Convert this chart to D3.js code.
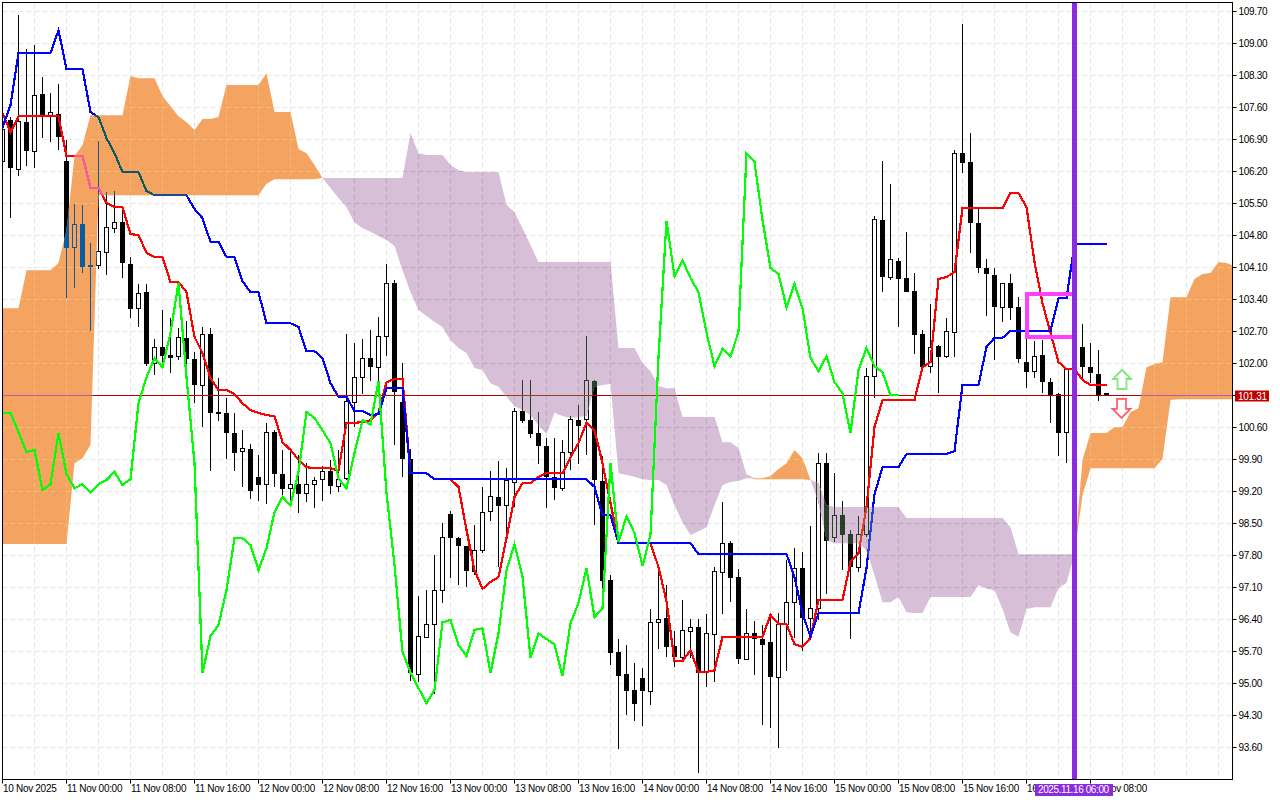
<!DOCTYPE html>
<html>
<head>
    <style>
        html, body { margin: 0; padding: 0; background: #fff; overflow: hidden; }
        svg { display: block; }
        text { font-family: "Liberation Sans", Arial, sans-serif; font-size: 10px; letter-spacing: -0.3px; fill: #000; }
    </style>
    <script src="https://d3js.org/d3.v7.min.js"></script>
</head>
<body>

<svg width="1280" height="800"></svg>

<script>
    var timeLabels = ["10 Nov 2025", "11 Nov 00:00", "11 Nov 08:00", "11 Nov 16:00", "12 Nov 00:00", "12 Nov 08:00",
        "12 Nov 16:00", "13 Nov 00:00", "13 Nov 08:00", "13 Nov 16:00", "14 Nov 00:00", "14 Nov 08:00",
        "14 Nov 16:00", "15 Nov 00:00", "15 Nov 08:00", "15 Nov 16:00", "16 Nov 00:00", "16 Nov 08:00"];
    var timeTicks = [0, 8, 16, 24, 32, 40, 48, 56, 64, 72, 80, 88, 96, 104, 112, 120, 128, 136];

    var priceTicks = [109.7, 109.0, 108.3, 107.6, 106.9, 106.2, 105.5, 104.8, 104.1, 103.4, 102.7, 102.0,
        101.3, 100.6, 99.9, 99.2, 98.5, 97.8, 97.1, 96.4, 95.7, 95.0, 94.3, 93.6];

    var open = [106.41, 107.33, 106.25, 107.28, 106.65, 107.89, 107.39, 107.46, 106.43, 104.52,
        105.05, 104.15, 104.13, 104.44, 104.96, 105.09, 104.18, 103.21, 103.56, 102.01,
        102.36, 102.18, 102.14, 102.56, 102.1, 101.53, 102.64, 100.94, 100.92, 100.48,
        100.06, 100.13, 99.52, 99.36, 100.5, 99.58, 99.27, 99.36, 99.16, 99.36,
        99.45, 99.65, 99.32, 99.47, 101.16, 101.7, 102.12, 101.92, 102.6, 103.76,
        101.16, 99.91, 95.18, 96.02, 96.3, 97.04, 98.71, 98.18, 98.01, 97.46,
        97.92, 98.75, 99.08, 98.88, 99.41, 100.96, 100.76, 100.48, 100.19, 99.52,
        99.27, 100.06, 100.76, 100.76, 101.62, 99.43, 97.26, 95.69, 95.2, 94.86,
        95.12, 94.83, 96.34, 96.43, 95.82, 95.58, 96.15, 96.23, 95.25, 96.08,
        97.44, 98.07, 97.33, 95.53, 96.1, 95.97, 95.91, 95.14, 96.3, 96.78,
        97.52, 96.43, 96.65, 99.82, 98.2, 98.68, 98.27, 97.55, 98.27, 101.7,
        105.14, 103.89, 104.24, 103.87, 103.58, 102.64, 101.92, 102.38, 102.14, 102.69,
        106.6, 106.41, 105.07, 104.09, 103.93, 103.23, 103.76, 103.23, 102.03, 101.83,
        102.18, 101.59, 101.33, 100.48, 101.86, 102.36, 101.92, 101.77, 101.35];
    var high = [107.22, 107.39, 109.62, 108.88, 108.97, 108.27, 107.92, 108.11, 106.89, 105.49,
        105.47, 104.63, 106.87, 105.75, 105.77, 105.36, 104.33, 103.74, 103.74, 102.53,
        103.17, 103.0, 102.77, 102.93, 102.25, 102.8, 102.77, 101.68, 101.24, 100.92,
        100.54, 100.24, 100.0, 100.7, 100.54, 100.11, 100.15, 100.0, 99.82, 99.52,
        99.76, 99.89, 100.11, 102.64, 102.45, 102.53, 102.73, 103.02, 104.17, 103.83,
        102.01, 100.13, 96.91, 97.04, 97.81, 98.51, 98.77, 98.2, 98.01, 98.47,
        99.3, 99.65, 99.87, 99.71, 101.03, 101.64, 101.64, 100.94, 100.37, 100.37,
        100.33, 100.85, 101.09, 102.6, 101.64, 99.97, 97.37, 95.97, 95.84, 95.45,
        95.34, 96.63, 97.44, 97.15, 96.15, 96.82, 96.41, 96.41, 96.52, 97.55,
        98.97, 98.12, 97.5, 96.63, 96.37, 96.28, 96.5, 96.54, 97.7, 97.96,
        97.88, 98.44, 100.04, 100.04, 99.6, 98.99, 98.36, 98.66, 101.9, 105.22,
        106.43, 105.93, 104.31, 104.87, 103.98, 102.73, 103.3, 102.4, 103.0, 106.67,
        109.43, 107.04, 105.4, 104.28, 104.09, 103.76, 103.96, 103.45, 102.58, 102.49,
        102.51, 101.68, 101.35, 101.9, 102.51, 102.86, 102.45, 102.29, 101.35];
    var low = [106.34, 105.18, 106.1, 106.32, 106.27, 106.93, 106.84, 106.67, 103.43, 103.65,
        103.98, 102.71, 104.07, 103.93, 104.85, 103.87, 103.0, 102.8, 101.94, 101.75,
        101.92, 101.79, 102.07, 101.72, 101.13, 100.61, 99.65, 100.74, 99.91, 99.65,
        99.3, 99.03, 98.99, 98.92, 99.3, 99.1, 98.99, 98.73, 98.97, 98.84,
        98.99, 99.14, 99.19, 99.45, 100.61, 101.33, 101.62, 101.35, 102.16, 100.22,
        99.52, 95.05, 95.03, 96.0, 94.77, 96.76, 97.31, 97.15, 97.11, 97.37,
        97.85, 98.55, 97.55, 98.25, 98.86, 100.7, 100.37, 99.8, 98.84, 99.01,
        99.21, 99.67, 99.8, 100.0, 98.47, 97.04, 95.4, 93.57, 94.31, 94.18,
        94.07, 94.53, 95.75, 95.58, 95.36, 95.51, 95.56, 93.04, 94.92, 95.03,
        96.52, 96.78, 95.43, 95.51, 95.18, 94.09, 94.03, 93.59, 95.27, 96.0,
        95.71, 96.02, 96.39, 96.96, 98.09, 97.48, 95.97, 97.44, 98.2, 101.24,
        103.56, 103.83, 102.8, 103.56, 102.21, 101.92, 101.79, 101.35, 102.12, 102.14,
        106.17, 104.42, 103.98, 103.04, 102.07, 102.9, 102.95, 102.01, 101.46, 101.68,
        101.35, 100.7, 99.97, 99.82, 101.64, 101.68, 101.57, 101.18, 101.29];
    var close = [107.11, 106.27, 107.3, 106.65, 107.87, 107.39, 107.48, 106.95, 104.52, 105.03,
        104.11, 104.13, 104.44, 104.98, 105.09, 104.2, 103.19, 103.54, 101.99, 102.36,
        102.16, 102.12, 102.56, 102.1, 101.53, 102.64, 100.92, 100.89, 100.48, 100.04,
        100.13, 99.21, 99.34, 100.5, 99.58, 99.25, 99.36, 99.14, 99.36, 99.45,
        99.63, 99.32, 99.47, 101.16, 101.7, 102.12, 101.92, 102.6, 103.76, 101.38,
        99.91, 95.23, 96.02, 96.3, 97.04, 98.2, 98.18, 98.01, 97.46, 97.92,
        98.75, 99.08, 98.88, 99.43, 100.96, 100.74, 100.46, 100.19, 99.52, 99.27,
        100.06, 100.78, 100.63, 101.62, 99.45, 97.24, 95.67, 95.16, 94.83, 94.55,
        94.83, 96.34, 96.41, 95.8, 95.58, 96.17, 96.23, 95.23, 96.1, 97.46,
        98.07, 97.31, 95.53, 96.1, 95.97, 95.84, 95.14, 96.3, 96.78, 97.52,
        96.43, 96.65, 99.82, 98.12, 98.68, 98.25, 97.55, 98.27, 101.72, 105.14,
        103.89, 104.28, 103.85, 103.56, 102.62, 101.92, 102.34, 102.14, 102.69, 106.6,
        106.38, 105.07, 104.09, 103.96, 103.23, 103.76, 103.21, 102.1, 101.81, 102.16,
        101.59, 101.31, 100.48, 101.86, 102.32, 101.92, 101.79, 101.31, 101.31];

    var tenkan = [107.48, 107.06, 107.41, 107.41, 107.41, 107.41, 107.41, 107.41, 106.54, 106.54,
        106.54, 105.84, 105.84, 105.51, 105.42, 105.42, 104.83, 104.81, 104.42, 104.33,
        104.33, 103.78, 103.78, 103.56, 102.58, 102.23, 101.68, 101.42, 101.42, 101.33,
        101.13, 100.98, 100.92, 100.87, 100.85, 100.28, 100.11, 99.89, 99.73, 99.71,
        99.71, 99.71, 99.65, 100.7, 100.7, 100.72, 100.76, 100.92, 101.59, 101.66,
        101.66, 99.6, 99.6, 99.6, 99.47, 99.47, 99.47, 99.3, 98.36, 97.48,
        97.07, 97.22, 97.33, 98.18, 99.08, 99.38, 99.38, 99.52, 99.6, 99.6,
        99.6, 99.95, 100.26, 100.7, 100.54, 99.82, 98.95, 98.07, 98.07, 98.07,
        98.07, 98.07, 97.55, 96.8, 95.49, 95.49, 95.73, 95.25, 95.25, 95.29,
        96.02, 96.02, 96.02, 96.02, 96.02, 96.02, 96.5, 96.3, 96.3, 95.86,
        95.8, 96, 96.83, 96.83, 96.83, 96.83, 97.66, 97.85, 98.86, 100.61,
        101.2, 101.2, 101.2, 101.2, 101.2, 101.92, 102.03, 103.85, 103.89, 104,
        105.4, 105.4, 105.4, 105.4, 105.4, 105.4, 105.73, 105.73, 105.42, 104.22,
        103.32, 102.67, 102.03, 101.88, 101.88, 101.64, 101.53, 101.53, 101.53];
    var kijun = [107.17, 107.65, 108.79, 108.79, 108.79, 108.79, 108.79, 109.29, 108.44, 108.44,
        108.44, 107.5, 107.39, 106.93, 106.6, 106.19, 106.19, 106.19, 105.77, 105.68,
        105.68, 105.68, 105.68, 105.68, 105.38, 105.18, 104.66, 104.66, 104.33, 104.33,
        103.8, 103.56, 103.56, 102.88, 102.88, 102.88, 102.88, 102.8, 102.27, 102.27,
        102.12, 101.57, 101.27, 101.27, 100.96, 100.96, 100.87, 100.89, 101.46, 101.46,
        101.46, 99.6, 99.6, 99.6, 99.47, 99.47, 99.47, 99.47, 99.47, 99.47,
        99.47, 99.47, 99.47, 99.47, 99.47, 99.47, 99.47, 99.47, 99.47, 99.47,
        99.47, 99.47, 99.47, 99.47, 99.3, 98.68, 98.68, 98.07, 98.07, 98.07,
        98.07, 98.07, 98.07, 98.07, 98.07, 98.07, 98.07, 97.83, 97.83, 97.83,
        97.83, 97.83, 97.83, 97.83, 97.83, 97.83, 97.83, 97.83, 97.83, 97.33,
        96.54, 96.02, 96.54, 96.54, 96.54, 96.54, 96.54, 96.54, 97.52, 99.14,
        99.73, 99.73, 99.73, 100.02, 100.02, 100.02, 100.02, 100.02, 100.02, 100.08,
        101.53, 101.53, 101.53, 102.36, 102.56, 102.56, 102.71, 102.71, 102.71, 102.71,
        102.71, 102.71, 103.43, 103.43, 104.61, 104.61, 104.61, 104.61, 104.61];
    var chikou = [100.92, 100.92, 100.5, 100.06, 100.11, 99.23, 99.36, 100.48, 99.58, 99.27,
        99.36, 99.17, 99.36, 99.45, 99.63, 99.34, 99.47, 101.13, 101.7, 102.12,
        101.92, 102.67, 103.76, 101.7, 99.82, 95.23, 96.04, 96.28, 97.04, 98.18,
        98.18, 98.03, 97.48, 97.96, 98.75, 99.08, 98.9, 99.63, 100.94, 100.81,
        100.54, 100.26, 99.49, 99.27, 100.04, 100.76, 100.67, 101.62, 99.17, 97.59,
        95.69, 95.25, 94.9, 94.57, 94.86, 96.34, 96.39, 95.84, 95.6, 96.17,
        96.21, 95.23, 96.1, 97.48, 98.05, 97.33, 95.56, 96.1, 95.97, 95.86,
        95.16, 96.32, 96.76, 97.52, 96.45, 96.65, 99.82, 98.09, 98.66, 98.29,
        97.57, 98.25, 102.14, 105.12, 103.91, 104.26, 103.87, 103.56, 102.67, 101.94,
        102.32, 102.16, 102.69, 106.6, 106.41, 105.14, 104.09, 103.96, 103.23, 103.74,
        103.21, 102.12, 101.83, 102.16, 101.59, 101.35, 100.48, 101.86, 102.34, 101.94,
        101.81, 101.31, 101.31];
    var spanA = [103.21, 103.21, 103.21, 104.04, 104.04, 104.04, 104.04, 104.2, 104.92, 106.54,
        106.78, 107.43, 107.43, 107.43, 107.43, 107.43, 108.29, 108.24, 108.24, 108.24,
        107.85, 107.63, 107.41, 107.28, 107.11, 107.35, 107.35, 107.39, 108.09, 108.09,
        108.09, 108.09, 108.09, 108.35, 107.5, 107.5, 107.5, 106.69, 106.6, 106.34,
        106.06, 105.84, 105.62, 105.42, 105.09, 104.96, 104.88, 104.79, 104.7, 104.57,
        104.04, 103.56, 103.17, 103.04, 102.91, 102.8, 102.51, 102.34, 102.23, 101.9,
        101.86, 101.57, 101.49, 101.27, 101.07, 100.98, 100.87, 100.65, 100.46, 100.92,
        100.85, 100.81, 100.83, 100.85, 101.49, 101.53, 101.55, 99.6, 99.56, 99.52,
        99.47, 99.45, 99.45, 99.34, 98.9, 98.53, 98.25, 98.33, 98.42, 98.9,
        99.34, 99.41, 99.43, 99.49, 99.49, 99.49, 99.54, 99.69, 99.82, 100.11,
        99.93, 99.45, 98.97, 98.14, 98.07, 98.07, 98.07, 98.07, 97.92, 97.37,
        96.78, 96.78, 96.89, 96.56, 96.54, 96.54, 96.89, 96.89, 96.89, 96.89,
        96.89, 96.89, 97.15, 97.07, 97.04, 96.63, 96.12, 96.02, 96.63, 96.67,
        96.67, 96.67, 97.09, 97.2, 97.83, 99.89, 100.48, 100.48, 100.48, 100.61,
        100.61, 100.94, 101.02, 101.92, 101.99, 102.03, 103.45, 103.45, 103.45, 103.85,
        103.96, 103.98, 104.22, 104.2, 104.13];
    var spanB = [98.05, 98.05, 98.05, 98.05, 98.05, 98.05, 98.05, 98.05, 98.05, 99.82,
        99.93, 100.22, 105.68, 105.68, 105.68, 105.68, 105.68, 105.68, 105.68, 105.68,
        105.68, 105.68, 105.68, 105.68, 105.68, 105.68, 105.68, 105.68, 105.68, 105.68,
        105.68, 105.68, 105.68, 105.93, 106.03, 106.03, 106.03, 106.03, 106.03, 106.03,
        106.06, 106.06, 106.06, 106.06, 106.06, 106.06, 106.06, 106.06, 106.06, 106.06,
        106.06, 107.04, 106.6, 106.56, 106.56, 106.56, 106.34, 106.23, 106.19, 106.19,
        106.19, 106.19, 106.19, 105.47, 105.31, 104.96, 104.59, 104.22, 104.22, 104.22,
        104.22, 104.22, 104.22, 104.22, 104.22, 104.22, 104.22, 102.34, 102.34, 102.34,
        102.01, 101.83, 101.51, 101.46, 101.46, 100.83, 100.83, 100.83, 100.83, 100.83,
        100.28, 100.28, 100.15, 99.58, 99.47, 99.47, 99.47, 99.47, 99.47, 99.47,
        99.47, 99.45, 99.38, 98.9, 98.86, 98.86, 98.86, 98.86, 98.86, 98.86,
        98.86, 98.86, 98.86, 98.62, 98.62, 98.62, 98.62, 98.62, 98.62, 98.62,
        98.62, 98.62, 98.62, 98.62, 98.62, 98.62, 98.42, 97.83, 97.83, 97.83,
        97.83, 97.83, 97.83, 97.83, 97.83, 99.12, 99.71, 99.71, 99.71, 99.71,
        99.71, 99.71, 99.71, 99.71, 99.71, 99.91, 101.2, 101.22, 101.22, 101.22,
        101.22, 101.22, 101.22, 101.22, 101.22];

    var bidPrice = 101.31;
    var cursorBar = 134;
    var cursorLabel = "2025.11.16 06:00";
    var boxStartBar = 128;
    var boxTopPrice = 103.51;
    var boxBottomPrice = 102.57;
    var arrowBar = 140;
    var arrowUpPrice = 101.86;
    var arrowDownPrice = 100.81;

    // the cloud xors what is under it, so each layer gets its own colours
    var plainColors = { bg: "#fff", grid: "#e6e6e6", ink: "#000", paper: "#fff", tenkan: "#ff0000", kijun: "#0000ff", bid: "#b30000" };
    var orangeColors = { bg: "#f4a460", grid: "#edbd79", ink: "#0b5b9f", paper: "#f4a460", tenkan: "#f45b9f", kijun: "#0b5b60", bid: "#b85b9f" };
    var purpleColors = { bg: "#d8bfd8", grid: "#c1a6c1", ink: "#274027", paper: "#d8bfd8", tenkan: "#d84027", kijun: "#2740d8", bid: "#944027" };

    var frame = { left: 2.5, top: 2.5, right: 1232.5, bottom: 779.5 };

    var svg = d3.select("svg");

    // one bar is 8px, bar 0 sits on the left border
    var xScale = d3.scaleLinear().domain([0, 138]).range([2.5, 1106.5]);
    var yScale = d3.scaleLinear().domain([109.7, 93.6]).range([11.5, 747.5]);

    function snap(v) { return Math.round(v - 0.5) + 0.5; }

    svg.append("rect").attr("width", 1280).attr("height", 800).attr("fill", "#fff");

    var defs = svg.append("defs");
    defs.append("clipPath").attr("id", "plot")
      .append("rect")
        .attr("x", frame.left).attr("y", frame.top)
        .attr("width", frame.right - frame.left).attr("height", frame.bottom - frame.top);

    var line = d3.line()
        .x(function(d, i) { return xScale(i); })
        .y(function(d) { return yScale(d); });

    var gridXs = d3.range(4, 154, 4);
    var bars = d3.range(open.length);

    function drawLayer(parent, colors) {
        parent.append("rect")
            .attr("x", frame.left).attr("y", frame.top)
            .attr("width", frame.right - frame.left).attr("height", frame.bottom - frame.top)
            .attr("fill", colors.bg);

        // grid
        var grid = parent.append("g")
            .attr("stroke", colors.grid).attr("stroke-dasharray", "5,3").attr("fill", "none");
        grid.selectAll("line.gx").data(gridXs).join("line")
            .attr("class", "gx")
            .attr("x1", function(d) { return xScale(d); }).attr("x2", function(d) { return xScale(d); })
            .attr("y1", frame.top).attr("y2", frame.bottom);
        grid.selectAll("line.gy").data(priceTicks).join("line")
            .attr("class", "gy")
            .attr("x1", frame.left).attr("x2", frame.right)
            .attr("y1", function(d) { return yScale(d); }).attr("y2", function(d) { return yScale(d); });

        // candles
        var candles = parent.append("g").attr("shape-rendering", "crispEdges");
        candles.selectAll("line").data(bars).join("line")
            .attr("x1", function(i) { return xScale(i); }).attr("x2", function(i) { return xScale(i); })
            .attr("y1", function(i) { return yScale(high[i]); }).attr("y2", function(i) { return yScale(low[i]); })
            .attr("stroke", colors.ink);
        candles.selectAll("rect").data(bars).join("rect")
            .attr("x", function(i) { return close[i] >= open[i] ? xScale(i) - 2 : xScale(i) - 2.5; })
            .attr("width", function(i) { return close[i] >= open[i] ? 4 : 5; })
            .attr("y", function(i) {
                var t = yScale(Math.max(open[i], close[i]));
                return close[i] >= open[i] ? snap(t) : Math.round(t);
            })
            .attr("height", function(i) {
                var h = Math.round(Math.abs(yScale(open[i]) - yScale(close[i])));
                return Math.max(h, close[i] >= open[i] ? 1 : 2);
            })
            .attr("fill", function(i) { return close[i] >= open[i] ? colors.paper : colors.ink; })
            .attr("stroke", function(i) { return close[i] >= open[i] ? colors.ink : "none"; });

        parent.append("path").datum(tenkan).attr("d", line)
            .attr("fill", "none").attr("stroke", colors.tenkan).attr("stroke-width", 2.2).attr("shape-rendering", "crispEdges");
        parent.append("path").datum(kijun).attr("d", line)
            .attr("fill", "none").attr("stroke", colors.kijun).attr("stroke-width", 2.2).attr("shape-rendering", "crispEdges");

        parent.append("line")
            .attr("x1", frame.left).attr("x2", frame.right)
            .attr("y1", snap(yScale(bidPrice))).attr("y2", snap(yScale(bidPrice)))
            .attr("stroke", colors.bid);
    }

    var plot = svg.append("g").attr("clip-path", "url(#plot)");
    drawLayer(plot, plainColors);

    // cloud, spanA above spanB is orange, the other way round is purple
    var cloudBars = d3.range(spanA.length);
    var orangeArea = d3.area()
        .x(function(i) { return xScale(i); })
        .y0(function(i) { return yScale(spanB[i]); })
        .y1(function(i) { return yScale(Math.max(spanA[i], spanB[i])); });
    var purpleArea = d3.area()
        .x(function(i) { return xScale(i); })
        .y0(function(i) { return yScale(spanA[i]); })
        .y1(function(i) { return yScale(Math.max(spanA[i], spanB[i])); });

    defs.append("clipPath").attr("id", "orange").append("path").datum(cloudBars).attr("d", orangeArea);
    defs.append("clipPath").attr("id", "purple").append("path").datum(cloudBars).attr("d", purpleArea);

    drawLayer(plot.append("g").attr("clip-path", "url(#orange)"), orangeColors);
    drawLayer(plot.append("g").attr("clip-path", "url(#purple)"), purpleColors);

    // chikou stays on top of the cloud
    plot.append("path").datum(chikou).attr("d", line)
        .attr("fill", "none").attr("stroke", "#00ff00").attr("stroke-width", 2.2).attr("shape-rendering", "crispEdges");

    // magenta box
    plot.append("path")
        .attr("d", "M" + xScale(cursorBar) + "," + yScale(boxTopPrice) +
            "H" + xScale(boxStartBar) + "V" + yScale(boxBottomPrice) + "H" + xScale(cursorBar))
        .attr("fill", "none").attr("stroke", "#ff40ff").attr("stroke-width", 4)
        .attr("shape-rendering", "crispEdges");

    // cursor line
    plot.append("line")
        .attr("x1", xScale(cursorBar)).attr("x2", xScale(cursorBar))
        .attr("y1", frame.top).attr("y2", frame.bottom)
        .attr("stroke", "#8a2be2").attr("stroke-width", 5);

    // arrows
    var arrowUp = "M0,0L9,9H4.5V19H-4.5V9H-9Z";
    var arrowDown = "M0,0L9,-9H4.5V-19H-4.5V-9H-9Z";
    function drawArrow(shape, price, dx, outer, inner) {
        var tr = "translate(" + (xScale(arrowBar) + dx) + "," + yScale(price) + ")";
        plot.append("path").attr("d", shape).attr("transform", tr)
            .attr("fill", "#fff").attr("stroke", outer).attr("stroke-width", 1.6);
        plot.append("path").attr("d", shape).attr("transform", tr)
            .attr("fill", "none").attr("stroke", inner).attr("stroke-width", 0.5);
    }
    drawArrow(arrowUp, arrowUpPrice, -0.5, "#55dd44", "#b8f5e0");
    drawArrow(arrowDown, arrowDownPrice, -1, "#ff3344", "#ffb8c8");

    // frame and axes
    svg.append("rect")
        .attr("x", frame.left).attr("y", frame.top)
        .attr("width", frame.right - frame.left).attr("height", frame.bottom - frame.top)
        .attr("fill", "none").attr("stroke", "#000");

    var yAxis = d3.axisRight(yScale)
        .tickValues(priceTicks)
        .tickFormat(d3.format(".2f"))
        .tickSize(4)
        .tickPadding(2)
        .offset(0);
    var yAxisG = svg.append("g")
        .attr("transform", "translate(" + frame.right + ",0)")
        .call(yAxis);
    yAxisG.select(".domain").remove();
    yAxisG.selectAll("text").attr("dy", "3.5");

    var xAxis = d3.axisBottom(xScale)
        .tickValues(timeTicks)
        .tickFormat(function(d, i) { return timeLabels[i]; })
        .tickSize(4)
        .offset(0);
    var xAxisG = svg.append("g")
        .attr("transform", "translate(0," + frame.bottom + ")")
        .call(xAxis);
    xAxisG.select(".domain").remove();
    xAxisG.selectAll("text")
        .attr("text-anchor", "start").attr("x", 0.5).attr("y", 3).attr("dy", "9.5");
    // d3's axis group sets its own font, put ours back
    yAxisG.attr("font-family", null).attr("font-size", null);
    xAxisG.attr("font-family", null).attr("font-size", null);

    // bid label
    var bidY = snap(yScale(bidPrice));
    svg.append("rect")
        .attr("x", 1235).attr("y", bidY - 5).attr("width", 34).attr("height", 11).attr("fill", "#c00000");
    svg.append("text").attr("x", 1238).attr("y", bidY + 4).style("fill", "#fff").text(bidPrice.toFixed(2));

    // cursor date label
    svg.append("rect")
        .attr("x", 1035).attr("y", 784).attr("width", 78).attr("height", 12).attr("fill", "#8a2be2");
    svg.append("text").attr("x", 1038).attr("y", 793).style("fill", "#fff")
        .style("letter-spacing", "-0.4px").text(cursorLabel);
</script>
</body>
</html>
